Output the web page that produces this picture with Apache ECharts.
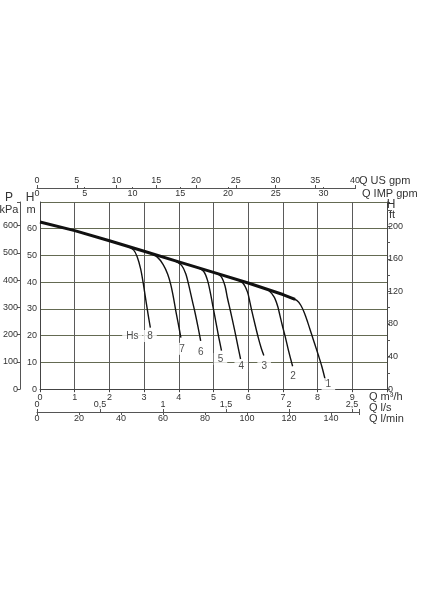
<!DOCTYPE html>
<html><head><meta charset="utf-8">
<script src="https://cdn.jsdelivr.net/npm/echarts@6/dist/echarts.min.js"></script>
<style>html,body{margin:0;background:#fff}#c{width:424px;height:600px}</style>
</head><body><div id="c"></div>
<script>
// Flow in m3/h, head in m
const envelope = [[0,62.5],[1,59.3],[2,55.5],[3,51.6],[4,47.6],[5,43.7],[6,39.7],[7,35.4],[7.35,33.6]];
const curve1 = [[7.2,34.3],[7.4,33.2],[7.52,31.3],[7.62,28.5],[7.72,24.8],[7.82,20.8],[7.92,16.8],[8.02,12.8],[8.12,8.6],[8.23,3.0]];
const curve2 = [[6.4,38.1],[6.6,36.8],[6.75,34.4],[6.85,31],[6.91,27.8],[6.98,24],[7.07,19.5],[7.16,14.5],[7.23,11],[7.28,8.6]];
const curve3 = [[5.65,41.1],[5.85,39.6],[5.98,36.3],[6.05,32.5],[6.1,29.5],[6.2,24],[6.29,19.3],[6.37,15.6],[6.45,12.6]];
const curve4 = [[5.05,43.6],[5.22,42.1],[5.33,38.7],[5.4,34.2],[5.48,29.7],[5.56,25],[5.65,19.5],[5.72,15],[5.78,11.3]];
const curve5 = [[4.55,45.5],[4.72,44],[4.83,40.6],[4.91,36],[4.99,30.5],[5.07,25],[5.15,19.5],[5.23,14.4]];
const curve6 = [[3.9,47.9],[4.08,46.3],[4.2,43.2],[4.3,38.2],[4.39,33],[4.47,28.5],[4.55,23.5],[4.63,18.1]];
const curve7 = [[3.15,50.9],[3.38,49.4],[3.55,46.6],[3.68,43],[3.77,39],[3.85,34],[3.91,29.5],[3.98,24.8],[4.06,19.3]];
const curve8 = [[2.5,53.6],[2.7,52],[2.8,49.5],[2.9,45],[2.97,40],[3.03,35],[3.09,30],[3.14,26],[3.18,23]];
const curveLabels = [['1',8.31,1.9],['2',7.29,5.0],['3',6.46,8.7],['4',5.8,8.7],['5',5.2,11.3],['6',4.63,13.9],['7',4.09,15.1],['8',3.17,19.9],['Hs',2.66,19.9]];
// Tick labels
const m3hTicks = [0,1,2,3,4,5,6,7,8,9];
const mTicks = [0,10,20,30,40,50,60];
const kpaTicks = [0,100,200,300,400,500,600];
const ftTicks = [0,40,80,120,160,200];
const usGpmTicks = [0,5,10,15,20,25,30,35,40];
const impGpmTicks = [0,5,10,15,20,25,30];
const lsTicks = [0,0.5,1,1.5,2,2.5];
const lminTicks = [0,20,40,60,80,100,120,140];

const FONT = '"Liberation Sans", Arial, sans-serif';
const TXT = '#333';
const near = (arr, v) => arr.some(t => Math.abs(t - v) < 1e-6);
const lbl = (arr, fmt) => v => near(arr, v) ? (fmt ? fmt(v) : String(v)) : '';

const chart = echarts.init(document.getElementById('c'), null, {renderer:'canvas'});
const curves = [curve1,curve2,curve3,curve4,curve5,curve6,curve7,curve8];
const series = [{
  type:'line', data: envelope, xAxisIndex:0, yAxisIndex:0, symbol:'none',
  lineStyle:{color:'#111', width:3}, smooth:false, z:5
}].concat(curves.map(c => ({
  type:'line', data:c, xAxisIndex:0, yAxisIndex:0, symbol:'none',
  lineStyle:{color:'#111', width:1.4}, smooth:0.3, z:4
}))).concat([{
  type:'scatter', xAxisIndex:0, yAxisIndex:0, symbolSize:0, z:6,
  data: curveLabels.map(l => ({name:l[0], value:[l[1], l[2]]})),
  label:{show:true, position:'inside', formatter:p => p.name, color:'#222', fontSize:10, fontFamily:FONT,
    backgroundColor:'#fff', padding:[1,4]}
}]);

const gText = (text, x, y, size, align) => ({type:'text', x, y, z:10,
  style:{text, font: (size||11)+'px '+FONT, fill:TXT, textAlign: align||'left', textVerticalAlign:'middle'}});

chart.setOption({
  animation:false,
  backgroundColor:'#fff',
  grid:[
    {left:37, right:37, top:202, height:187.2},
    {left:37, width:318, top:187, height:1},
    {left:37, width:322, top:411, height:1}
  ],
  xAxis:[
    {type:'value', gridIndex:0, min:0, max:10, interval:1, position:'bottom',
     axisLine:{show:true, lineStyle:{color:'#444'}}, axisTick:{show:true, length:3, lineStyle:{color:'#444'}},
     axisLabel:{formatter:lbl(m3hTicks), fontSize:9, color:TXT, fontFamily:FONT, margin:4},
     splitLine:{show:true, lineStyle:{color:'#5a5a5a', width:1}}},
    {type:'value', gridIndex:1, min:0, max:40, interval:5, position:'top',
     axisLine:{show:true, lineStyle:{color:'#555'}}, axisTick:{show:true, length:3, lineStyle:{color:'#555'}},
     axisLabel:{formatter:lbl(usGpmTicks), fontSize:9, color:TXT, fontFamily:FONT, margin:2},
     splitLine:{show:false}},
    {type:'value', gridIndex:1, min:0, max:33.31, interval:5, position:'top',
     axisLine:{show:false}, axisTick:{show:true, inside:true, length:2, lineStyle:{color:'#555'}},
     axisLabel:{inside:true, formatter:lbl(impGpmTicks), fontSize:9, color:TXT, fontFamily:FONT, margin:2},
     splitLine:{show:false}},
    {type:'value', gridIndex:2, min:0, max:2.5556, interval:0.5, position:'bottom',
     axisLine:{show:true, lineStyle:{color:'#555'}}, axisTick:{show:true, inside:true, length:3, lineStyle:{color:'#555'}},
     axisLabel:{inside:true, formatter:lbl(lsTicks, v => String(v).replace('.', ',')), fontSize:9, color:TXT, fontFamily:FONT, margin:3},
     splitLine:{show:false}},
    {type:'value', gridIndex:2, min:0, max:153.33, interval:20, position:'bottom',
     axisLine:{show:false}, axisTick:{show:true, length:3, lineStyle:{color:'#555'}},
     axisLabel:{formatter:lbl(lminTicks), fontSize:9, color:TXT, fontFamily:FONT, margin:2},
     splitLine:{show:false}}
  ],
  yAxis:[
    {type:'value', gridIndex:0, min:0, max:70, interval:10, position:'left',
     axisLine:{show:true, lineStyle:{color:'#444'}}, axisTick:{show:false},
     axisLabel:{formatter:lbl(mTicks), fontSize:9, color:TXT, fontFamily:FONT, margin:3},
     splitLine:{show:true, lineStyle:{color:'#646a52', width:1}}},
    {type:'value', gridIndex:0, min:0, max:686.47, interval:100, position:'left', offset:20,
     axisLine:{show:true, lineStyle:{color:'#555'}}, axisTick:{show:true, length:3, lineStyle:{color:'#555'}},
     axisLabel:{formatter:lbl(kpaTicks), fontSize:9, color:TXT, fontFamily:FONT, margin:2},
     splitLine:{show:false}},
    {type:'value', gridIndex:0, min:0, max:229.66, interval:20, position:'right',
     axisLine:{show:true, lineStyle:{color:'#444'}}, axisTick:{show:true, length:3, lineStyle:{color:'#555'}},
     axisLabel:{formatter:lbl(ftTicks), fontSize:9, color:TXT, fontFamily:FONT, margin:1},
     splitLine:{show:false}},
    {type:'value', gridIndex:1, show:false},
    {type:'value', gridIndex:2, show:false}
  ],
  graphic:[
    gText('P', 9, 198, 12, 'center'),
    gText('kPa', 9, 210, 11, 'center'),
    gText('H', 30, 198, 12, 'center'),
    gText('m', 31, 210, 11, 'center'),
    gText('H', 391, 205, 12, 'center'),
    gText('ft', 392, 215, 11, 'center'),
    gText('Q US gpm', 359, 181, 11),
    gText('Q IMP gpm', 362, 194, 11),
    gText('Q m³/h', 369, 397, 11),
    gText('Q l/s', 369, 408, 11),
    gText('Q l/min', 369, 419, 11)
  ],
  series: series
});
</script>
</body></html>
